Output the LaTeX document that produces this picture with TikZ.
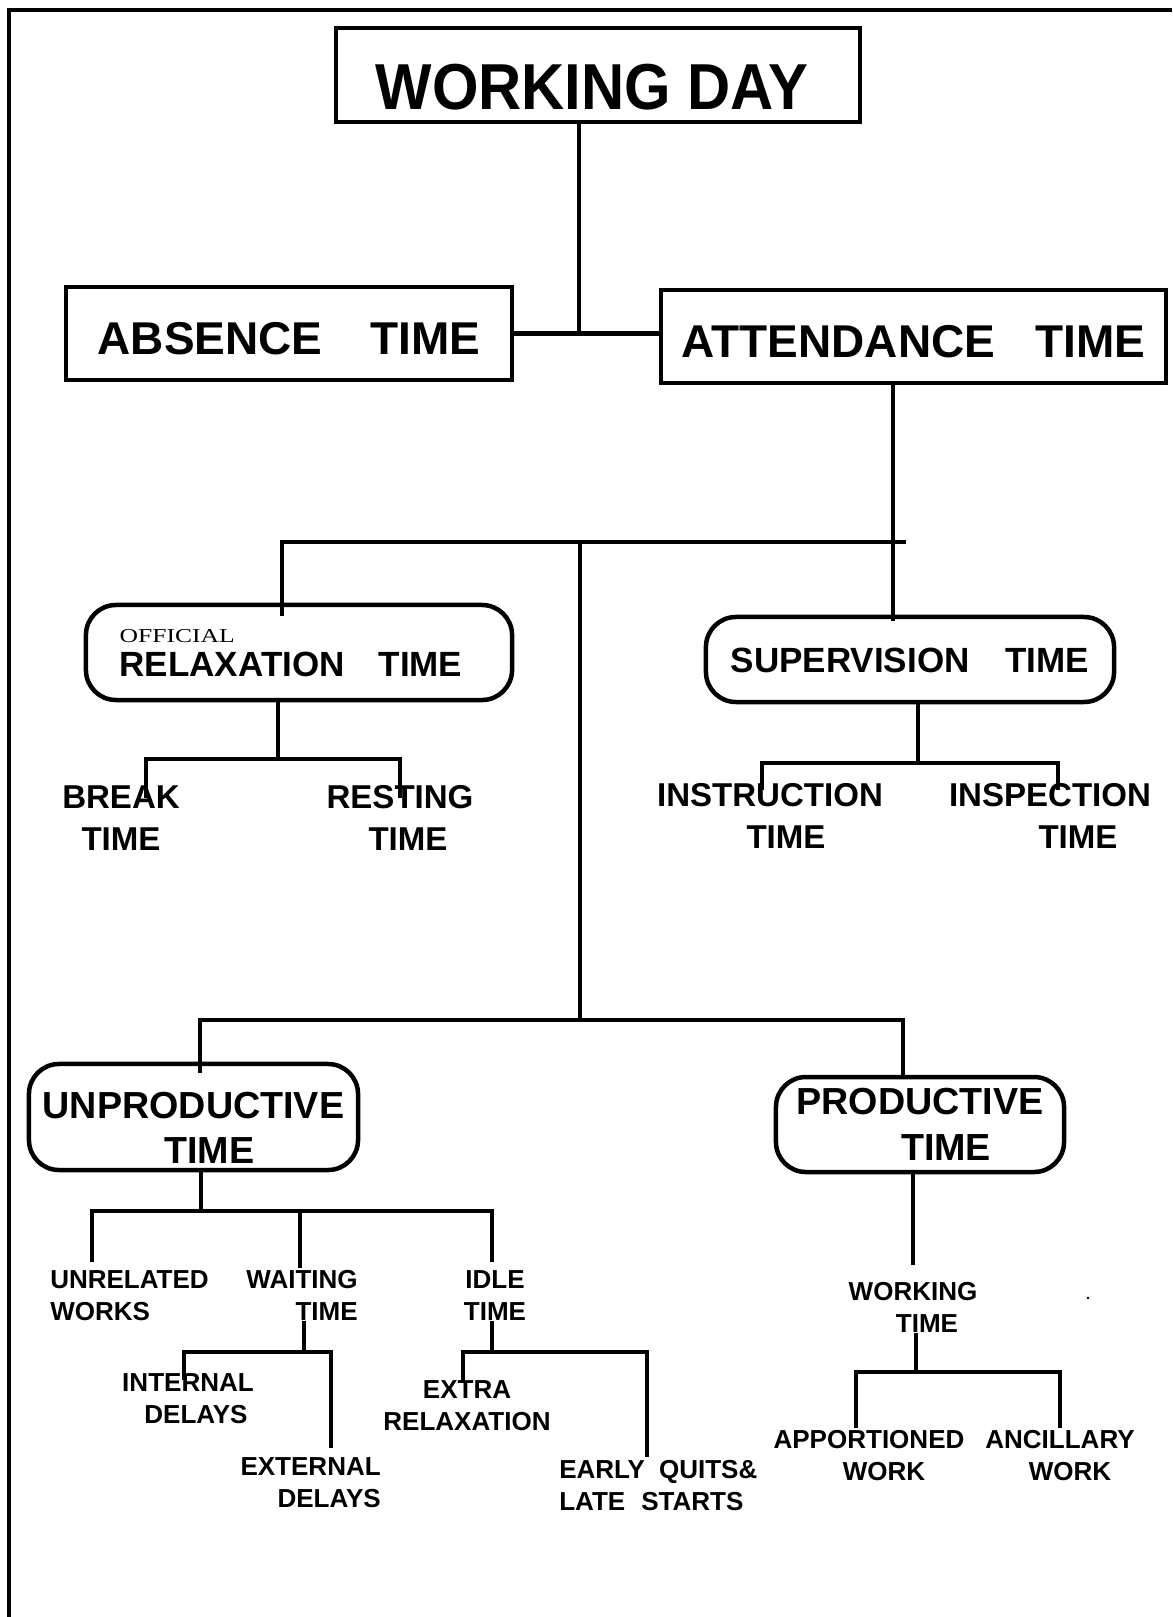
\documentclass[tikz,border=0pt]{standalone}
\usepackage{fontspec}
\setsansfont{Liberation Sans}
\newfontfamily\narrowsans{Liberation Sans}[FakeStretch=0.92]
\newfontfamily\offserif{Liberation Serif}[FakeStretch=1.3]
\usetikzlibrary{calc}

\begin{document}
\begin{tikzpicture}[%
    x=0.025cm, y=-0.025cm,
    every node/.style={%
      font=\sffamily\bfseries,
      inner sep=0pt,
      align=center
    },
    boxed/.style={draw=black, line width=3.2pt},
    roundboxed/.style={boxed, rounded corners=0.75cm},
    link/.style={line width=2.5pt},
    thicklink/.style={line width=3.2pt},
    pageline/.style={line width=2.4pt},
    boxtext/.style={font=\sffamily\bfseries\fontsize{32.7pt}{38pt}\selectfont},
    subboxtext/.style={font=\sffamily\bfseries\fontsize{24.9pt}{24.2pt}\selectfont},
    unitboxtext/.style={font=\sffamily\bfseries\fontsize{26.8pt}{32.5pt}\selectfont},
    midlabel/.style={font=\sffamily\bfseries\fontsize{23.5pt}{29.9pt}\selectfont},
    lowlabel/.style={font=\sffamily\bfseries\fontsize{18.5pt}{22.8pt}\selectfont}
  ]
  \useasboundingbox (0,0) rectangle (1172,1617);

  % page frame
  \draw[pageline] (9,1617) -- (9,10) -- (1172,10);

  % boxes
  \node[boxed, minimum width=13.1cm, minimum height=2.35cm,
    font=\narrowsans\bfseries\fontsize{46.2pt}{50pt}\selectfont]
    (wday) at (598,75) {\rule{0pt}{1.75cm}WORKING DAY\hspace*{0.3cm}};
  \node[boxed, boxtext, minimum width=11.15cm, minimum height=2.325cm]
    (absence) at (289,333.5) {\rule{0pt}{1.075cm}ABSENCE\hspace{1.2cm}TIME};
  \node[boxed, boxtext, minimum width=12.625cm, minimum height=2.325cm]
    (attend) at (913.5,336.5) {\rule{0pt}{1.075cm}ATTENDANCE\hspace{1.0cm}TIME};
  \node[roundboxed, subboxtext, align=left, minimum width=10.65cm, minimum height=2.375cm]
    (relax) at (299,652.5)
    {\rule{0pt}{0.375cm}{\offserif\mdseries\fontsize{14pt}{14pt}\selectfont OFFICIAL}\\RELAXATION\hspace{0.85cm}TIME\hspace*{0.4cm}};
  \node[roundboxed, subboxtext, minimum width=10.2cm, minimum height=2.125cm]
    (superv) at (910,659.5) {\rule{0pt}{0.675cm}SUPERVISION\hspace{0.9cm}TIME};
  \node[roundboxed, unitboxtext, minimum width=8.225cm, minimum height=2.65cm]
    (unprod) at (193.5,1117) {\rule{0pt}{1.2cm}UNPRODUCTIVE\\\hspace*{0.8cm}TIME};
  \node[roundboxed, unitboxtext, minimum width=7.2cm, minimum height=2.375cm]
    (prod) at (920,1124.5) {PRODUCTIVE\\\hspace*{1.3cm}TIME};

  % labels
  \node[midlabel, anchor=north] (brk) at (121,785) {BREAK\\TIME};
  \node[midlabel, anchor=north] (rest) at (400,785) {RESTING\\\hspace*{0.4cm}TIME};
  \node[midlabel, anchor=north] (instr) at (770,783) {INSTRUCTION\\\hspace*{0.8cm}TIME};
  \node[midlabel, anchor=north] (insp) at (1050,783) {INSPECTION\\\hspace*{1.4cm}TIME};

  \node[lowlabel, anchor=north west, align=left] (unrel) at (50,1270) {UNRELATED\\WORKS};
  \node[lowlabel, anchor=north east, align=right] (wait) at (358,1270) {WAITING\\TIME};
  \node[lowlabel, anchor=north] (idle) at (495,1270) {IDLE\\TIME};
  \node[lowlabel, anchor=north] (intdel) at (188,1373) {INTERNAL\\\hspace*{0.4cm}DELAYS};
  \node[lowlabel, anchor=north east, align=right] (extdel) at (381,1457) {EXTERNAL\\DELAYS};
  \node[lowlabel, anchor=north] (extra) at (467,1380) {EXTRA\\RELAXATION};
  \node[lowlabel, anchor=north west, align=left] (early) at (559,1460)
    {EARLY\hspace{0.35cm}QUITS\&\\LATE\hspace{0.4cm}STARTS};
  \node[lowlabel, anchor=north] (worktime) at (913,1282) {WORKING\\\hspace*{0.7cm}TIME};
  \node[lowlabel, anchor=north] (apport) at (869,1430) {APPORTIONED\\\hspace*{0.75cm}WORK};
  \node[lowlabel, anchor=north] (ancil) at (1060,1430) {ANCILLARY\\\hspace*{0.5cm}WORK};

  % junctions and line ends
  \coordinate (topj) at (579,333);
  \coordinate (busend) at (906,542);
  \coordinate (midtop) at (580,542);
  \coordinate (lowj) at (580,1020);
  \coordinate (relbus) at (278,759);
  \coordinate (svbus) at (918,763);
  \coordinate (ubus) at (201,1211);
  \coordinate (wbus) at (304,1352);
  \coordinate (ibus) at (492,1352);
  \coordinate (pbus) at (916,1372);
  \coordinate (rl-t) at ($(relax.north)+(-17,13)$);
  \coordinate (sv-t) at ($(superv.north)+(-17,6)$);
  \coordinate (up-t) at ($(unprod.north)+(6.5,11)$);
  \coordinate (pr-t) at ($(prod.north)+(-17,0)$);
  \coordinate (brk-t) at ($(brk.north)+(25,13)$);
  \coordinate (rst-t) at ($(rest.north)+(0,13)$);
  \coordinate (ins-t) at ($(instr.north)+(-8,7)$);
  \coordinate (isp-t) at ($(insp.north)+(8,7)$);
  \coordinate (unr-t) at ($(unrel.north west)+(42,-8)$);
  \coordinate (wai-t) at ($(wait.north east)+(-58,-2)$);
  \coordinate (idl-t) at ($(idle.north)+(-3,-8)$);
  \coordinate (int-t) at ($(intdel.north)+(-4,7)$);
  \coordinate (ext-t) at ($(extdel.north east)+(-50,-9)$);
  \coordinate (xtr-t) at ($(extra.north)+(-4,3)$);
  \coordinate (ear-t) at ($(early.north west)+(88,-3)$);
  \coordinate (wkt-t) at ($(worktime.north)+(0,-17)$);
  \coordinate (app-t) at ($(apport.north)+(-13,-2)$);
  \coordinate (anc-t) at ($(ancil.north)+(0,-2)$);

  % connectors
  \draw[link] (wday.south -| topj) -- (topj);
  \draw[thicklink] (absence.east) -- (absence.east -| attend.west);
  \draw[thicklink] (attend.south -| sv-t) -- (sv-t);
  \draw[thicklink] (rl-t) |- (busend);
  \draw[thicklink] (midtop) -- (lowj);
  \draw[thicklink] (up-t) |- (lowj) -| (pr-t);

  \draw[link] (relax.south -| relbus) -- (relbus);
  \draw[link] (brk-t) |- (relbus) -| (rst-t);
  \draw[link] (superv.south -| svbus) -- (svbus);
  \draw[link] (ins-t) |- (svbus) -| (isp-t);

  \draw[link] (unprod.south -| ubus) -- (ubus);
  \draw[link] (unr-t) |- (ubus) -| (idl-t);
  \draw[link] (wai-t) -- (wai-t |- ubus);
  \draw[link] (wait.south -| wbus) -- (wbus);
  \draw[link] (int-t) |- (wbus) -| (ext-t);
  \draw[link] (idle.south -| ibus) -- (ibus);
  \draw[link] (xtr-t) |- (ibus) -| (ear-t);

  \draw[link] (prod.south -| wkt-t) -- (wkt-t);
  \draw[link] (worktime.south -| pbus) -- (pbus);
  \draw[link] (app-t) |- (pbus) -| (anc-t);

  \fill (1088,1298) circle (1.3);
\end{tikzpicture}
\end{document}
